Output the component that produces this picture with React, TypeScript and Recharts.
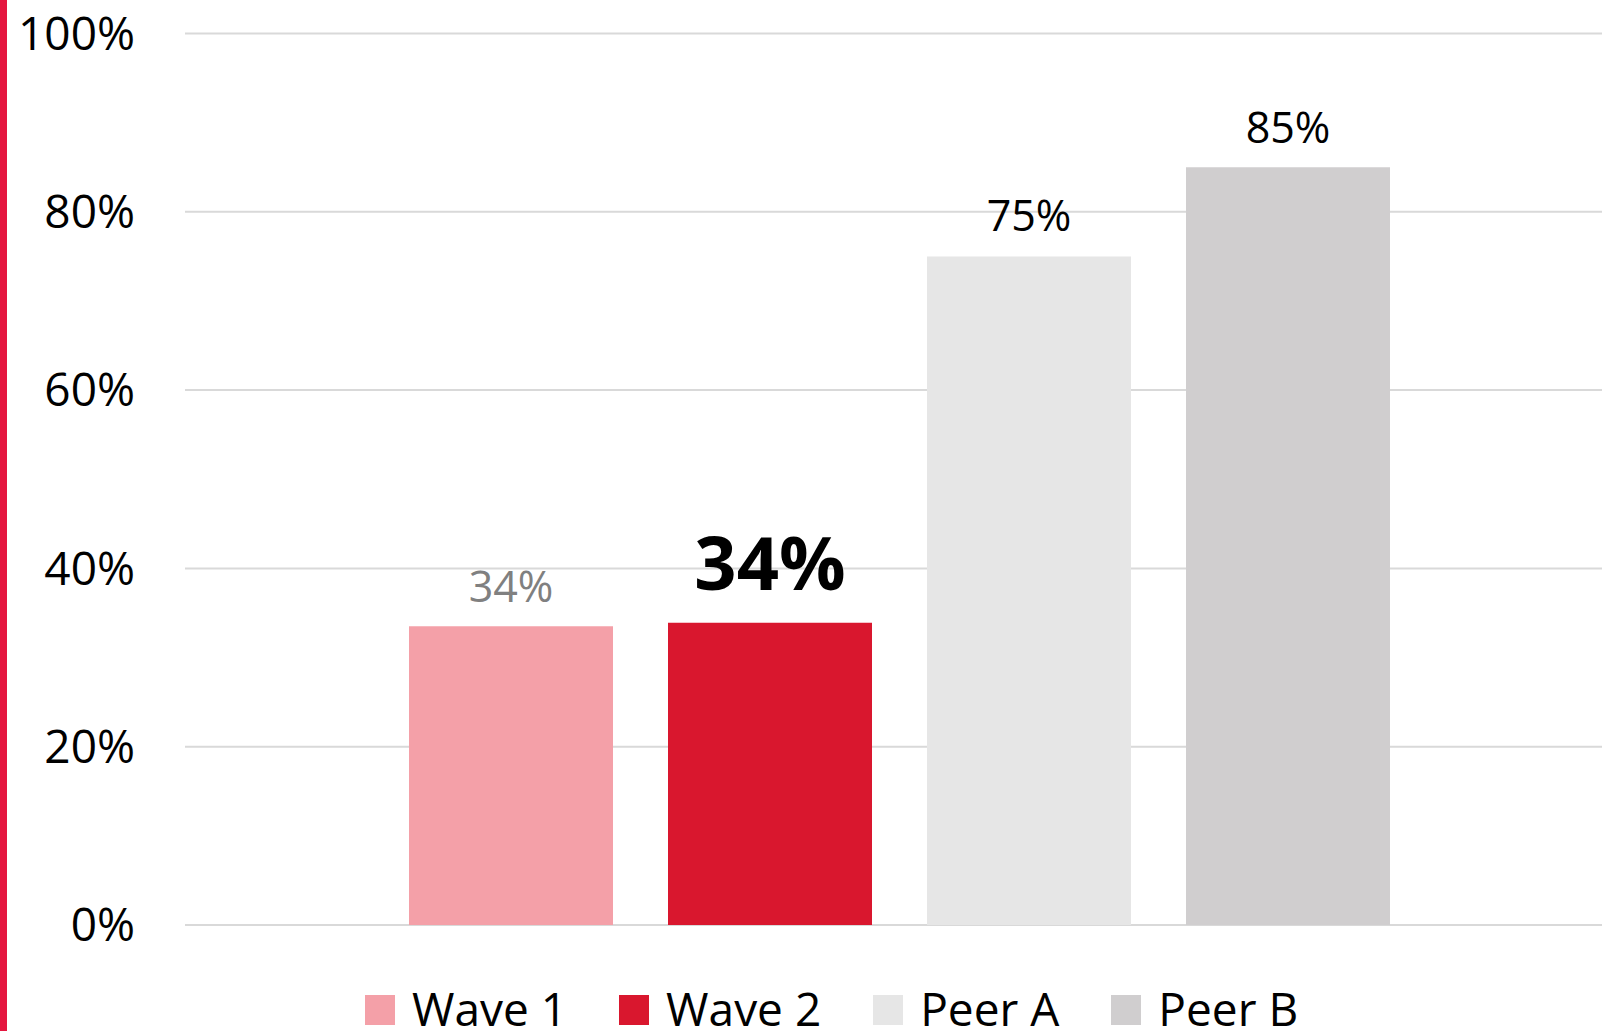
import React from 'react';
import { BarChart, Bar, XAxis, YAxis, CartesianGrid, Legend, LabelList } from 'recharts';

const categories = ['Result'];
const seriesNames = ['Wave 1', 'Wave 2', 'Peer A', 'Peer B'];
const seriesValues = [33.5, 33.9, 75, 85];
const yTicks = [0, 20, 40, 60, 80, 100];

const seriesColors = ['#F4A0A8', '#D9172E', '#E6E6E6', '#D0CECF'];
const labelStyles = [
  { fill: '#808080', fontSize: 43, fontWeight: 400, offset: 24 },
  { fill: '#000000', fontSize: 74, fontWeight: 700, offset: 33 },
  { fill: '#000000', fontSize: 43, fontWeight: 400, offset: 25 },
  { fill: '#000000', fontSize: 43, fontWeight: 400, offset: 24 },
];

const data = categories.map((c) => {
  const row: Record<string, any> = { category: c };
  seriesNames.forEach((n, i) => {
    row[n] = seriesValues[i];
  });
  return row;
});

const FONT = "'Open Sans', 'Noto Sans', sans-serif";

const LegendContent = () => {
  return (
    <div
      style={{
        display: 'flex',
        alignItems: 'center',
        height: 44,
        paddingLeft: 365,
        fontFamily: FONT,
        fontSize: 46,
        lineHeight: '44px',
        color: '#000',
        whiteSpace: 'nowrap',
      }}
    >
      {seriesNames.map((n, i) => (
        <div key={n} style={{ display: 'flex', alignItems: 'center', marginRight: 52 }}>
          <div style={{ width: 30, height: 30, background: seriesColors[i], marginRight: 17, marginTop: 4 }} />
          <span>{n}</span>
        </div>
      ))}
    </div>
  );
};

export default function App() {
  return (
    <div style={{ position: 'absolute', left: 0, top: 0, width: 1602, height: 1031, background: '#fff', overflow: 'hidden' }}>
      <div style={{ position: 'absolute', left: 0, top: 0, width: 7, height: 1031, background: '#E5173F' }} />
      <BarChart
        width={1602}
        height={1031}
        data={data}
        margin={{ top: 33.5, right: 0, left: 0, bottom: 62 }}
        barSize={204}
        barGap={55}
        style={{ fontFamily: FONT }}
      >
        <CartesianGrid horizontal vertical={false} stroke="#D9D9D9" strokeWidth={2} />
        <XAxis dataKey="category" hide padding={{ left: 12, right: 0 }} />
        <YAxis
          domain={[0, 100]}
          ticks={yTicks}
          width={185}
          axisLine={false}
          tickLine={false}
          tickSize={0}
          tickMargin={50}
          tickFormatter={(v: number) => `${v}%`}
          tick={{ fill: '#000', fontSize: 46, fontFamily: FONT }}
          interval={0}
        />
        <Legend
          verticalAlign="bottom"
          content={<LegendContent />}
          wrapperStyle={{ top: 986, left: 0, width: 1602, height: 44 }}
        />
        {seriesNames.map((n, i) => (
          <Bar key={n} dataKey={n} name={n} fill={seriesColors[i]} isAnimationActive={false}>
            <LabelList
              dataKey={n}
              position="top"
              offset={labelStyles[i].offset}
              formatter={(v: any) => `${Math.round(Number(v))}%`}
              fill={labelStyles[i].fill}
              fontSize={labelStyles[i].fontSize}
              fontWeight={labelStyles[i].fontWeight}
              fontFamily={FONT}
            />
          </Bar>
        ))}
      </BarChart>
    </div>
  );
}
